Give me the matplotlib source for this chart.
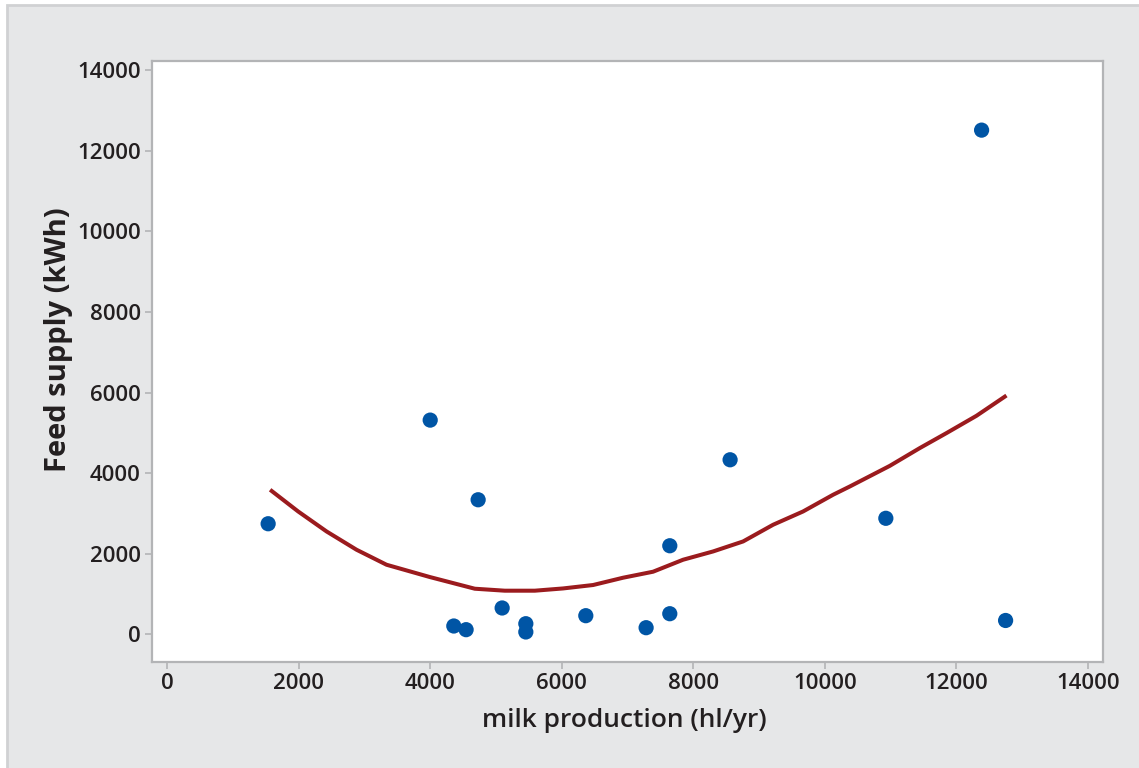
import matplotlib.pyplot as plt
from matplotlib.patches import Rectangle

# measured points
milk = [1536, 4000, 4729, 4359, 4546, 5094, 5454, 5454, 6366, 7283, 7643, 7643, 8560, 10928, 12384, 12749]
feed = [2745, 5316, 3340, 208, 117, 655, 265, 60, 464, 166, 513, 2199, 4332, 2880, 12510, 345]

# fitted curve
fit_x = [1566, 1992, 2424, 2880, 3336, 3994, 4678, 5134, 5591, 6021, 6477, 6933, 7389,
         7845, 8302, 8758, 9214, 9670, 10126, 10381, 10987, 11444, 11850, 12306, 12762]
fit_y = [3588, 3050, 2554, 2100, 1728, 1423, 1133, 1084, 1084, 1140, 1225, 1406, 1555,
         1852, 2058, 2306, 2720, 3050, 3464, 3670, 4180, 4622, 4994, 5423, 5926]

ticks = [0, 2000, 4000, 6000, 8000, 10000, 12000, 14000]

plt.rcParams['font.family'] = ['Open Sans', 'DejaVu Sans']
txt = '#231f20'
edge = '#b3b4b6'

fig = plt.figure(figsize=(11.39, 7.68), dpi=100)
fig.patch.set_facecolor('white')
fig.patches.append(Rectangle((7/1139, -0.1), 1.2, 1 - 5/768 + 0.1, transform=fig.transFigure,
                             facecolor='#e6e7e8', edgecolor='#d0d1d3', linewidth=2, zorder=-10))

ax = fig.add_axes([152/1139, 1 - 662/768, (1103 - 152)/1139, (662 - 61)/768])
ax.set_facecolor('white')
ax.plot(fit_x, fit_y, color='#9b1b1e', lw=2.9, solid_capstyle='butt', zorder=2)
ax.scatter(milk, feed, s=120, color='#0055a5', edgecolors='none', zorder=3)

ax.set_xlim(-230, 14230)
ax.set_ylim(-685, 14225)
ax.set_xticks(ticks)
ax.set_yticks(ticks)
ax.tick_params(length=5, width=1.2, color=edge, labelsize=16, labelcolor=txt, pad=3)
for lab in ax.get_xticklabels() + ax.get_yticklabels():
    lab.set_fontweight('semibold')
for s in ax.spines.values():
    s.set_color(edge)
    s.set_linewidth(1.6)

ax.set_xlabel('milk production (hl/yr)', fontsize=19, fontweight='semibold', color=txt)
ax.set_ylabel('Feed supply (kWh)', fontsize=21, fontweight='bold', color=txt)
ax.xaxis.set_label_coords(0.497, -0.077)
ax.yaxis.set_label_coords(-0.083, 0.536)

fig.savefig('out.png', dpi=100, facecolor=fig.get_facecolor())
